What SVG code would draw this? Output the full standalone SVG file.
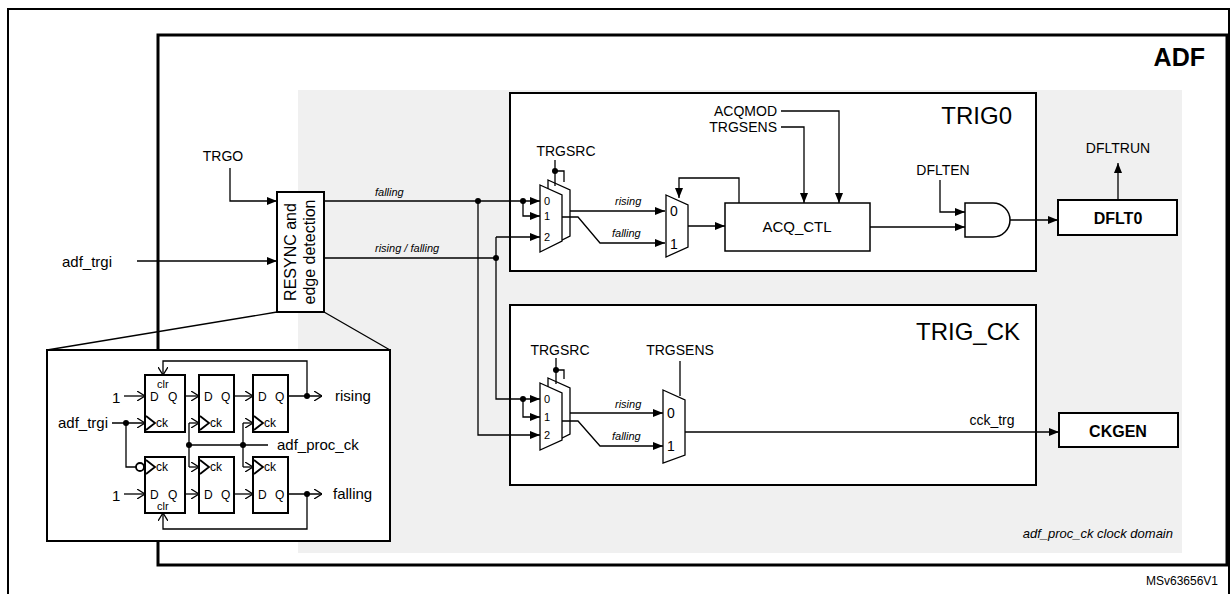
<svg xmlns="http://www.w3.org/2000/svg" width="1232" height="594" viewBox="0 0 1232 594">
<defs>
<marker id="a" markerWidth="10" markerHeight="8" refX="10" refY="4" orient="auto" markerUnits="userSpaceOnUse"><path d="M0,0 L10,4 L0,8 Z" fill="#000"/></marker>
<marker id="o" markerWidth="8" markerHeight="10" refX="8" refY="5" orient="auto" markerUnits="userSpaceOnUse"><path d="M0,0 L8,5 L0,10" fill="none" stroke="#000" stroke-width="1.3"/></marker>
</defs>
<style>
text{font-family:"Liberation Sans",Arial,sans-serif;fill:#000}
.l{font-size:14px}
.s{font-size:11px;font-style:italic}
.w{fill:none;stroke:#000;stroke-width:1.3}
.b{fill:#fff;stroke:#000;stroke-width:2}
.ff{fill:#fff;stroke:#000;stroke-width:2}
.d{fill:#000}
</style>
<rect x="0" y="0" width="1232" height="594" fill="#fff"/>
<rect x="8" y="9" width="1221" height="590" fill="none" stroke="#000" stroke-width="2"/>
<g id="adf">
<rect x="158" y="35" width="1069" height="530" fill="#fff" stroke="#000" stroke-width="3"/>
<rect x="298" y="90" width="884" height="463" fill="#f0f0f0"/>
<text x="1205" y="66" font-size="25" font-weight="bold" text-anchor="end">ADF</text>
<text x="1173" y="538" font-size="13" font-style="italic" text-anchor="end">adf_proc_ck clock domain</text>
</g>
<text x="1218" y="585" font-size="12" text-anchor="end">MSv63656V1</text>

<g id="trig0"><rect x="510" y="93" width="526" height="178" class="b"/>
<text x="1012" y="124" font-size="24" text-anchor="end">TRIG0</text></g>
<g id="trigck"><rect x="510" y="305" width="526" height="180" class="b"/>
<text x="1020" y="340" font-size="24" text-anchor="end">TRIG_CK</text></g>

<g id="resync"><rect x="277" y="192" width="47" height="120" class="b"/>
<text transform="translate(296,252) rotate(-90)" font-size="16" text-anchor="middle">RESYNC and</text>
<text transform="translate(315,252) rotate(-90)" font-size="16" text-anchor="middle">edge detection</text></g>

<g id="connectors">
<text x="223" y="161" class="l" text-anchor="middle">TRGO</text>
<path d="M230,168 V201 H277" class="w" marker-end="url(#a)"/>
<text x="87" y="267" font-size="15" text-anchor="middle">adf_trgi</text>
<path d="M137,261 H277" class="w" marker-end="url(#a)"/>
<path d="M324,201 H540" class="w" marker-end="url(#a)"/>
<text x="375" y="196" class="s">falling</text>
<path d="M324,258 H496" class="w"/>
<text x="375" y="252" class="s">rising / falling</text>
<circle cx="478" cy="201" r="3" class="d"/><circle cx="496" cy="258" r="3" class="d"/>
<path d="M496,237 V399 H540" class="w" marker-end="url(#a)"/>
<path d="M496,237 H540" class="w" marker-end="url(#a)"/>
<path d="M478,201 V435 H540" class="w" marker-end="url(#a)"/>
<circle cx="523" cy="201" r="3" class="d"/>
<path d="M523,201 V216 H540" class="w" marker-end="url(#a)"/>
<circle cx="523" cy="399" r="3" class="d"/>
<path d="M523,399 V417 H540" class="w" marker-end="url(#a)"/>
<path d="M277,312 L47,350 M324,312 L390,350" class="w"/>
</g>

<g id="mux_src0">
<text x="566" y="156" class="l" text-anchor="middle">TRGSRC</text>
<path d="M555,160 V186 M555,171 H564 V182" class="w"/><circle cx="555" cy="171" r="3" class="d"/>
<polygon points="548,180 570,190 570,236 548,247" class="w" fill="#fff"/>
<polygon points="540,185 562,195 562,241 540,252" fill="#fff" stroke="#000" stroke-width="1.3"/>
<text x="544" y="205" font-size="11">0</text><text x="544" y="220" font-size="11">1</text><text x="544" y="241" font-size="11">2</text>
<path d="M570,211 H665" class="w" marker-end="url(#a)"/>
<path d="M562,217 H578 L600,243 H665" class="w" marker-end="url(#a)"/>
<text x="615" y="205" class="s">rising</text><text x="612" y="237" class="s">falling</text>
</g>
<g id="mux_sens0">
<polygon points="666,195 688,205 688,247 666,257" fill="#fff" stroke="#000" stroke-width="1.3"/>
<text x="670" y="216" font-size="14">0</text><text x="670" y="249" font-size="14">1</text>
<path d="M688,226 H725" class="w" marker-end="url(#a)"/>
<path d="M739,203 V178 H679 V198" class="w" marker-end="url(#a)"/>
</g>
<g id="acq"><rect x="725" y="203" width="145" height="48" fill="#fff" stroke="#000" stroke-width="1.5"/>
<text x="797" y="232" font-size="15" text-anchor="middle">ACQ_CTL</text>
<text x="777" y="116" class="l" text-anchor="end">ACQMOD</text>
<text x="777" y="132" class="l" text-anchor="end">TRGSENS</text>
<path d="M781,111 H839 V203" class="w" marker-end="url(#a)"/>
<path d="M781,127 H804 V203" class="w" marker-end="url(#a)"/>
<path d="M870,227 H965" class="w" marker-end="url(#a)"/></g>
<g id="and">
<text x="943" y="175" class="l" text-anchor="middle">DFLTEN</text>
<path d="M940,180 V212 H965" class="w" marker-end="url(#a)"/>
<path d="M965,203 H993 A17,17 0 0 1 993,237 H965 Z" fill="#fff" stroke="#000" stroke-width="1.5"/>
<path d="M1010,220 H1058" class="w" marker-end="url(#a)"/></g>
<g id="dflt0"><rect x="1058" y="200" width="119" height="35" fill="#fff" stroke="#000" stroke-width="2"/>
<text x="1118" y="224" font-size="16" font-weight="bold" text-anchor="middle">DFLT0</text>
<path d="M1118,200 V163" class="w" marker-end="url(#a)"/>
<text x="1118" y="153" class="l" text-anchor="middle">DFLTRUN</text></g>

<g id="mux_srcck">
<text x="560" y="355" class="l" text-anchor="middle">TRGSRC</text>
<path d="M556,358 V384 M556,370 H564 V379" class="w"/><circle cx="556" cy="370" r="3" class="d"/>
<polygon points="548,378 570,388 570,434 548,445" class="w" fill="#fff"/>
<polygon points="540,383 562,393 562,440 540,450" fill="#fff" stroke="#000" stroke-width="1.3"/>
<text x="544" y="403" font-size="11">0</text><text x="544" y="421" font-size="11">1</text><text x="544" y="439" font-size="11">2</text>
<path d="M570,413 H663" class="w" marker-end="url(#a)"/>
<path d="M562,421 H578 L600,446 H663" class="w" marker-end="url(#a)"/>
<text x="615" y="408" class="s">rising</text><text x="612" y="440" class="s">falling</text>
</g>
<g id="mux_sensck">
<text x="680" y="355" class="l" text-anchor="middle">TRGSENS</text>
<path d="M680,361 V396" class="w"/>
<polygon points="663,390 685,400 685,455 663,463" fill="#fff" stroke="#000" stroke-width="1.3"/>
<text x="667" y="418" font-size="14">0</text><text x="667" y="451" font-size="14">1</text>
<path d="M685,432 H1059" class="w" marker-end="url(#a)"/>
<text x="992" y="425" class="l" text-anchor="middle">cck_trg</text></g>
<g id="ckgen"><rect x="1059" y="413" width="119" height="34" fill="#fff" stroke="#000" stroke-width="2"/>
<text x="1118" y="437" font-size="16" font-weight="bold" text-anchor="middle">CKGEN</text></g>

<g id="inset">
<rect x="47" y="350" width="343" height="191" fill="#fff" stroke="#000" stroke-width="2"/>
<g font-size="12">
<rect x="145" y="375" width="40" height="57" class="ff"/>
<rect x="199" y="375" width="35" height="57" class="ff"/>
<rect x="253" y="375" width="35" height="57" class="ff"/>
<rect x="145" y="457" width="40" height="56" class="ff"/>
<rect x="199" y="457" width="35" height="56" class="ff"/>
<rect x="253" y="457" width="35" height="56" class="ff"/>
<text x="157" y="388" font-size="11">clr</text><text x="157" y="510" font-size="11">clr</text>
<text x="150" y="401">D</text><text x="168" y="401">Q</text>
<text x="204" y="401">D</text><text x="221" y="401">Q</text>
<text x="258" y="401">D</text><text x="275" y="401">Q</text>
<text x="150" y="499">D</text><text x="168" y="499">Q</text>
<text x="204" y="499">D</text><text x="221" y="499">Q</text>
<text x="258" y="499">D</text><text x="275" y="499">Q</text>
<text x="156" y="427">ck</text><text x="210" y="427">ck</text><text x="264" y="427">ck</text>
<text x="156" y="471">ck</text><text x="210" y="471">ck</text><text x="264" y="471">ck</text>
</g>
<path d="M146,416 L155,423 L146,430 M200,416 L209,423 L200,430 M254,416 L263,423 L254,430 M146,460 L155,467 L146,474 M200,460 L209,467 L200,474 M254,460 L263,467 L254,474" fill="none" stroke="#000" stroke-width="1.8"/>
<text x="112" y="403" font-size="15">1</text><text x="112" y="501" font-size="15">1</text>
<text x="58" y="428" font-size="15">adf_trgi</text>
<text x="335" y="401" font-size="15">rising</text>
<text x="333" y="499" font-size="15">falling</text>
<text x="277" y="450" font-size="15">adf_proc_ck</text>
<path d="M124,396 H145" class="w" marker-end="url(#o)"/>
<path d="M185,396 H199" class="w" marker-end="url(#o)"/>
<path d="M234,396 H253" class="w" marker-end="url(#o)"/>
<path d="M124,494 H145" class="w" marker-end="url(#o)"/>
<path d="M185,494 H199" class="w" marker-end="url(#o)"/>
<path d="M234,494 H253" class="w" marker-end="url(#o)"/>
<path d="M112,423 H145" class="w" marker-end="url(#o)"/>
<path d="M126,423 V467 H136" class="w"/>
<circle cx="140" cy="467" r="4" fill="#fff" stroke="#000" stroke-width="1.8"/>
<circle cx="126" cy="423" r="3" class="d"/>
<path d="M288,396 H322" class="w" marker-end="url(#o)"/>
<path d="M288,494 H322" class="w" marker-end="url(#o)"/>
<circle cx="307" cy="396" r="3" class="d"/><circle cx="307" cy="494" r="3" class="d"/>
<path d="M307,396 V361 H163 V375" class="w" marker-end="url(#o)"/>
<path d="M307,494 V529 H163 V513" class="w" marker-end="url(#o)"/>
<path d="M187,445 H268" class="w"/>
<circle cx="189" cy="445" r="3" class="d"/><circle cx="243" cy="445" r="3" class="d"/>
<path d="M189,423 H199" class="w" marker-end="url(#o)"/>
<path d="M189,467 H199" class="w" marker-end="url(#o)"/>
<path d="M243,423 H253" class="w" marker-end="url(#o)"/>
<path d="M243,467 H253" class="w" marker-end="url(#o)"/>
<path d="M189,423 V467 M243,423 V467" class="w"/>
</g>
</svg>
